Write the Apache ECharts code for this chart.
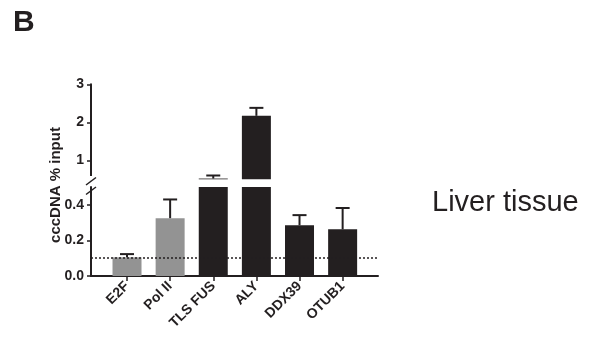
<!DOCTYPE html>
<html>
<head>
<meta charset="utf-8">
<script src="https://cdn.jsdelivr.net/npm/echarts@6/dist/echarts.min.js"></script>
<style>html,body{margin:0;padding:0;background:#fff;}#c{width:596px;height:341px;}</style>
</head>
<body>
<div id="c"></div>
<script>
const categories = ['E2F', 'Pol II', 'TLS FUS', 'ALY', 'DDX39', 'OTUB1'];
const controls = ['E2F', 'Pol II'];
const means = [0.105, 0.325, 0.52, 2.17, 0.285, 0.262];
const errors = [0.018, 0.105, 0.08, 0.21, 0.057, 0.12];
const threshold = 0.1;
const lowerTicks = [0, 0.2, 0.4];
const upperTicks = [1, 2, 3];
const breakAt = 0.5;
const upperMax = 3;

const DARK = '#231f20', GRAY = '#939393';
const FONT = '"Liberation Sans", Arial, sans-serif';
const idx = categories.map((c, i) => i);
const colorOf = i => controls.includes(categories[i]) ? GRAY : DARK;

const barData = idx.map(i => ({ value: [i, means[i]], itemStyle: { color: colorOf(i) } }));
const upperBarData = idx.filter(i => means[i] > breakAt)
  .map(i => ({ value: [i, means[i]], itemStyle: { color: colorOf(i) } }));
const errData = idx.map(i => [i, means[i], means[i] + errors[i]]);

function errRender(lower) {
  return function (params, api) {
    const m = api.value(1);
    if (lower && m > breakAt) return null;
    if (!lower && m <= breakAt) return null;
    const x = api.value(0);
    const p0 = api.coord([x, m]);
    const p1 = api.coord([x, api.value(2)]);
    const hw = 7;
    const st = { stroke: DARK, lineWidth: 2 };
    return {
      type: 'group',
      children: [
        { type: 'line', shape: { x1: p0[0], y1: p0[1], x2: p1[0], y2: p1[1] }, style: st },
        { type: 'line', shape: { x1: p1[0] - hw, y1: p1[1], x2: p1[0] + hw, y2: p1[1] }, style: st }
      ]
    };
  };
}

const xMin = -0.835, xMax = 5.82;
const tickLabel = { color: DARK, fontWeight: 'bold', fontSize: 14, fontFamily: FONT };
const chart = echarts.init(document.getElementById('c'));
chart.setOption({
  animation: false,
  backgroundColor: '#fff',
  textStyle: { fontFamily: FONT },
  grid: [
    { left: 91, width: 287, top: 187, height: 89 },
    { left: 91, width: 287, top: 84.3, height: 95 }
  ],
  xAxis: [
    {
      type: 'value', gridIndex: 0, min: xMin, max: xMax,
      splitLine: { show: false },
      axisLine: { show: true, onZero: false, lineStyle: { color: DARK, width: 2 } },
      axisTick: { show: true, customValues: idx, length: 5, lineStyle: { color: DARK, width: 1.5 } },
      axisLabel: Object.assign({
        customValues: idx, formatter: v => categories[Math.round(v)] || '',
        rotate: 45, margin: 8
      }, tickLabel)
    },
    { type: 'value', gridIndex: 1, min: xMin, max: xMax, show: false, splitLine: { show: false } }
  ],
  yAxis: [
    {
      type: 'value', gridIndex: 0, min: 0, max: breakAt,
      splitLine: { show: false },
      axisLine: { show: true, onZero: false, lineStyle: { color: DARK, width: 2 } },
      axisTick: { show: true, customValues: lowerTicks, length: 4, lineStyle: { color: DARK, width: 1.5 } },
      axisLabel: Object.assign({ customValues: lowerTicks, formatter: v => v.toFixed(1), margin: 7 }, tickLabel)
    },
    {
      type: 'value', gridIndex: 1, min: breakAt, max: upperMax,
      splitLine: { show: false },
      axisLine: { show: true, onZero: false, lineStyle: { color: DARK, width: 2 } },
      axisTick: { show: true, customValues: upperTicks, length: 4, lineStyle: { color: DARK, width: 1.5 } },
      axisLabel: Object.assign({ customValues: upperTicks, formatter: v => String(v), margin: 7 }, tickLabel)
    }
  ],
  series: [
    {
      type: 'bar', xAxisIndex: 0, yAxisIndex: 0, data: barData, barWidth: 29, clip: true,
      markLine: {
        silent: true, symbol: 'none', label: { show: false },
        lineStyle: { color: DARK, width: 1.5, type: [2, 2] },
        data: [{ yAxis: threshold }]
      }
    },
    { type: 'bar', xAxisIndex: 1, yAxisIndex: 1, data: upperBarData, barWidth: 29, clip: true },
    { type: 'custom', xAxisIndex: 0, yAxisIndex: 0, data: errData, renderItem: errRender(true), z: 3 },
    { type: 'custom', xAxisIndex: 1, yAxisIndex: 1, data: errData, renderItem: errRender(false), z: 3 }
  ],
  graphic: [
    { type: 'text', left: 13, top: 8, style: { text: 'B', fontSize: 30, fontWeight: 'bold', fontFamily: FONT, fill: DARK } },
    { type: 'text', x: 432, y: 203, style: { text: 'Liver tissue', fontSize: 29, fontFamily: FONT, fill: DARK, verticalAlign: 'middle' } },
    { type: 'text', x: 56, y: 185, rotation: Math.PI / 2, style: { text: 'cccDNA % input', fontSize: 15, fontWeight: 'bold', fontFamily: FONT, fill: DARK, align: 'center', verticalAlign: 'middle' } },
    { type: 'rect', shape: { x: 88, y: 176, width: 6, height: 4 }, style: { fill: '#fff' }, z: 10 },
    { type: 'line', shape: { x1: 86, y1: 185, x2: 96, y2: 177.5 }, style: { stroke: DARK, lineWidth: 1.5 }, z: 11 },
    { type: 'line', shape: { x1: 86, y1: 194.5, x2: 96, y2: 187 }, style: { stroke: DARK, lineWidth: 1.5 }, z: 11 }
  ]
});
</script>
</body>
</html>
